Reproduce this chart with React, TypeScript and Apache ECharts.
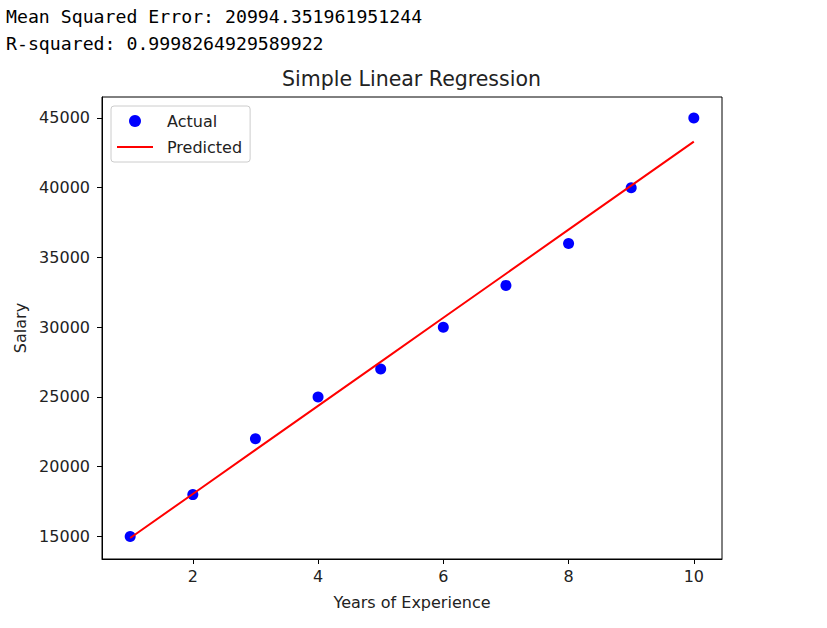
import React, { useEffect, useRef } from "react";
import * as echarts from "echarts";

const years = [1, 2, 3, 4, 5, 6, 7, 8, 9, 10];
const salaries = [15000, 18000, 22000, 25000, 27000, 30000, 33000, 36000, 40000, 45000];
const predicted = [14891, 18048, 21206, 24364, 27521, 30679, 33836, 36994, 40152, 43309];
const xTicks = [2, 4, 6, 8, 10];
const yTicks = [15000, 20000, 25000, 30000, 35000, 40000, 45000];
const headerLines = [
  "Mean Squared Error: 20994.351961951244",
  "R-squared: 0.9998264929589922",
];
const chartTitle = "Simple Linear Regression";

const FONT = "DejaVu Sans";
const TEXT = "#222";

export default function App() {
  const ref = useRef<HTMLDivElement>(null);
  useEffect(() => {
    if (!ref.current) return;
    const chart = echarts.init(ref.current, undefined, { renderer: "svg" });
    chart.setOption({
      animation: false,
      backgroundColor: "#fff",
      graphic: [
        ...headerLines.map((t, i) => ({
          type: "text",
          x: 6,
          y: 16 + i * 27,
          style: {
            text: t,
            fontFamily: "DejaVu Sans Mono",
            fontSize: 18.2,
            fill: "#000",
            verticalAlign: "middle",
          },
        })),
        {
          type: "text",
          x: 411.5,
          y: 79,
          style: {
            text: chartTitle,
            fontFamily: FONT,
            fontSize: 20.5,
            fill: TEXT,
            align: "center",
            verticalAlign: "middle",
          },
        },
      ],
      legend: {
        orient: "vertical",
        left: 111,
        top: 106,
        padding: [7, 8, 7, 6],
        itemGap: 10,
        itemWidth: 36,
        itemHeight: 12,
        backgroundColor: "rgba(255,255,255,0.8)",
        borderColor: "#ccc",
        borderWidth: 1,
        borderRadius: 3,
        textStyle: { fontFamily: FONT, fontSize: 16, color: TEXT, padding: [0, 0, 0, 9] },
        data: [
          { name: "Actual", icon: "circle" },
          { name: "Predicted", icon: "path://M0,0H36V2H0Z" },
        ],
      },
      grid: {
        left: 102,
        top: 97,
        width: 620,
        height: 462,
        show: true,
        borderColor: "#000",
        borderWidth: 1,
        backgroundColor: "transparent",
      },
      xAxis: {
        type: "value",
        min: 0.55,
        max: 10.45,
        name: "Years of Experience",
        nameLocation: "middle",
        nameGap: 35,
        nameTextStyle: { fontFamily: FONT, fontSize: 16, color: TEXT },
        axisLine: { show: true, lineStyle: { color: "#000", width: 1 } },
        axisTick: { show: true, length: 5, customValues: xTicks, lineStyle: { color: "#000" } },
        axisLabel: { customValues: xTicks, fontFamily: FONT, fontSize: 16, color: TEXT, margin: 9 },
        splitLine: { show: false },
      },
      yAxis: {
        type: "value",
        min: 13385,
        max: 46505,
        name: "Salary",
        nameLocation: "middle",
        nameGap: 72,
        nameTextStyle: { fontFamily: FONT, fontSize: 16, color: TEXT },
        axisLine: { show: true, lineStyle: { color: "#000", width: 1 } },
        axisTick: { show: true, length: 5, customValues: yTicks, lineStyle: { color: "#000" } },
        axisLabel: {
          customValues: yTicks,
          formatter: (v: number) => String(v),
          fontFamily: FONT,
          fontSize: 16,
          color: TEXT,
          margin: 12,
        },
        splitLine: { show: false },
      },
      series: [
        {
          name: "Actual",
          type: "scatter",
          symbol: "circle",
          symbolSize: 11,
          itemStyle: { color: "#0000ff", opacity: 1 },
          data: years.map((x, i) => [x, salaries[i]]),
          z: 3,
        },
        {
          name: "Predicted",
          type: "line",
          symbol: "none",
          showSymbol: false,
          lineStyle: { color: "#ff0000", width: 2 },
          itemStyle: { color: "#ff0000" },
          data: years.map((x, i) => [x, predicted[i]]),
          z: 4,
        },
      ],
    });
    return () => chart.dispose();
  }, []);
  return (
    <div
      ref={ref}
      style={{ position: "fixed", left: 0, top: 0, width: 827, height: 628, background: "#fff" }}
    />
  );
}
